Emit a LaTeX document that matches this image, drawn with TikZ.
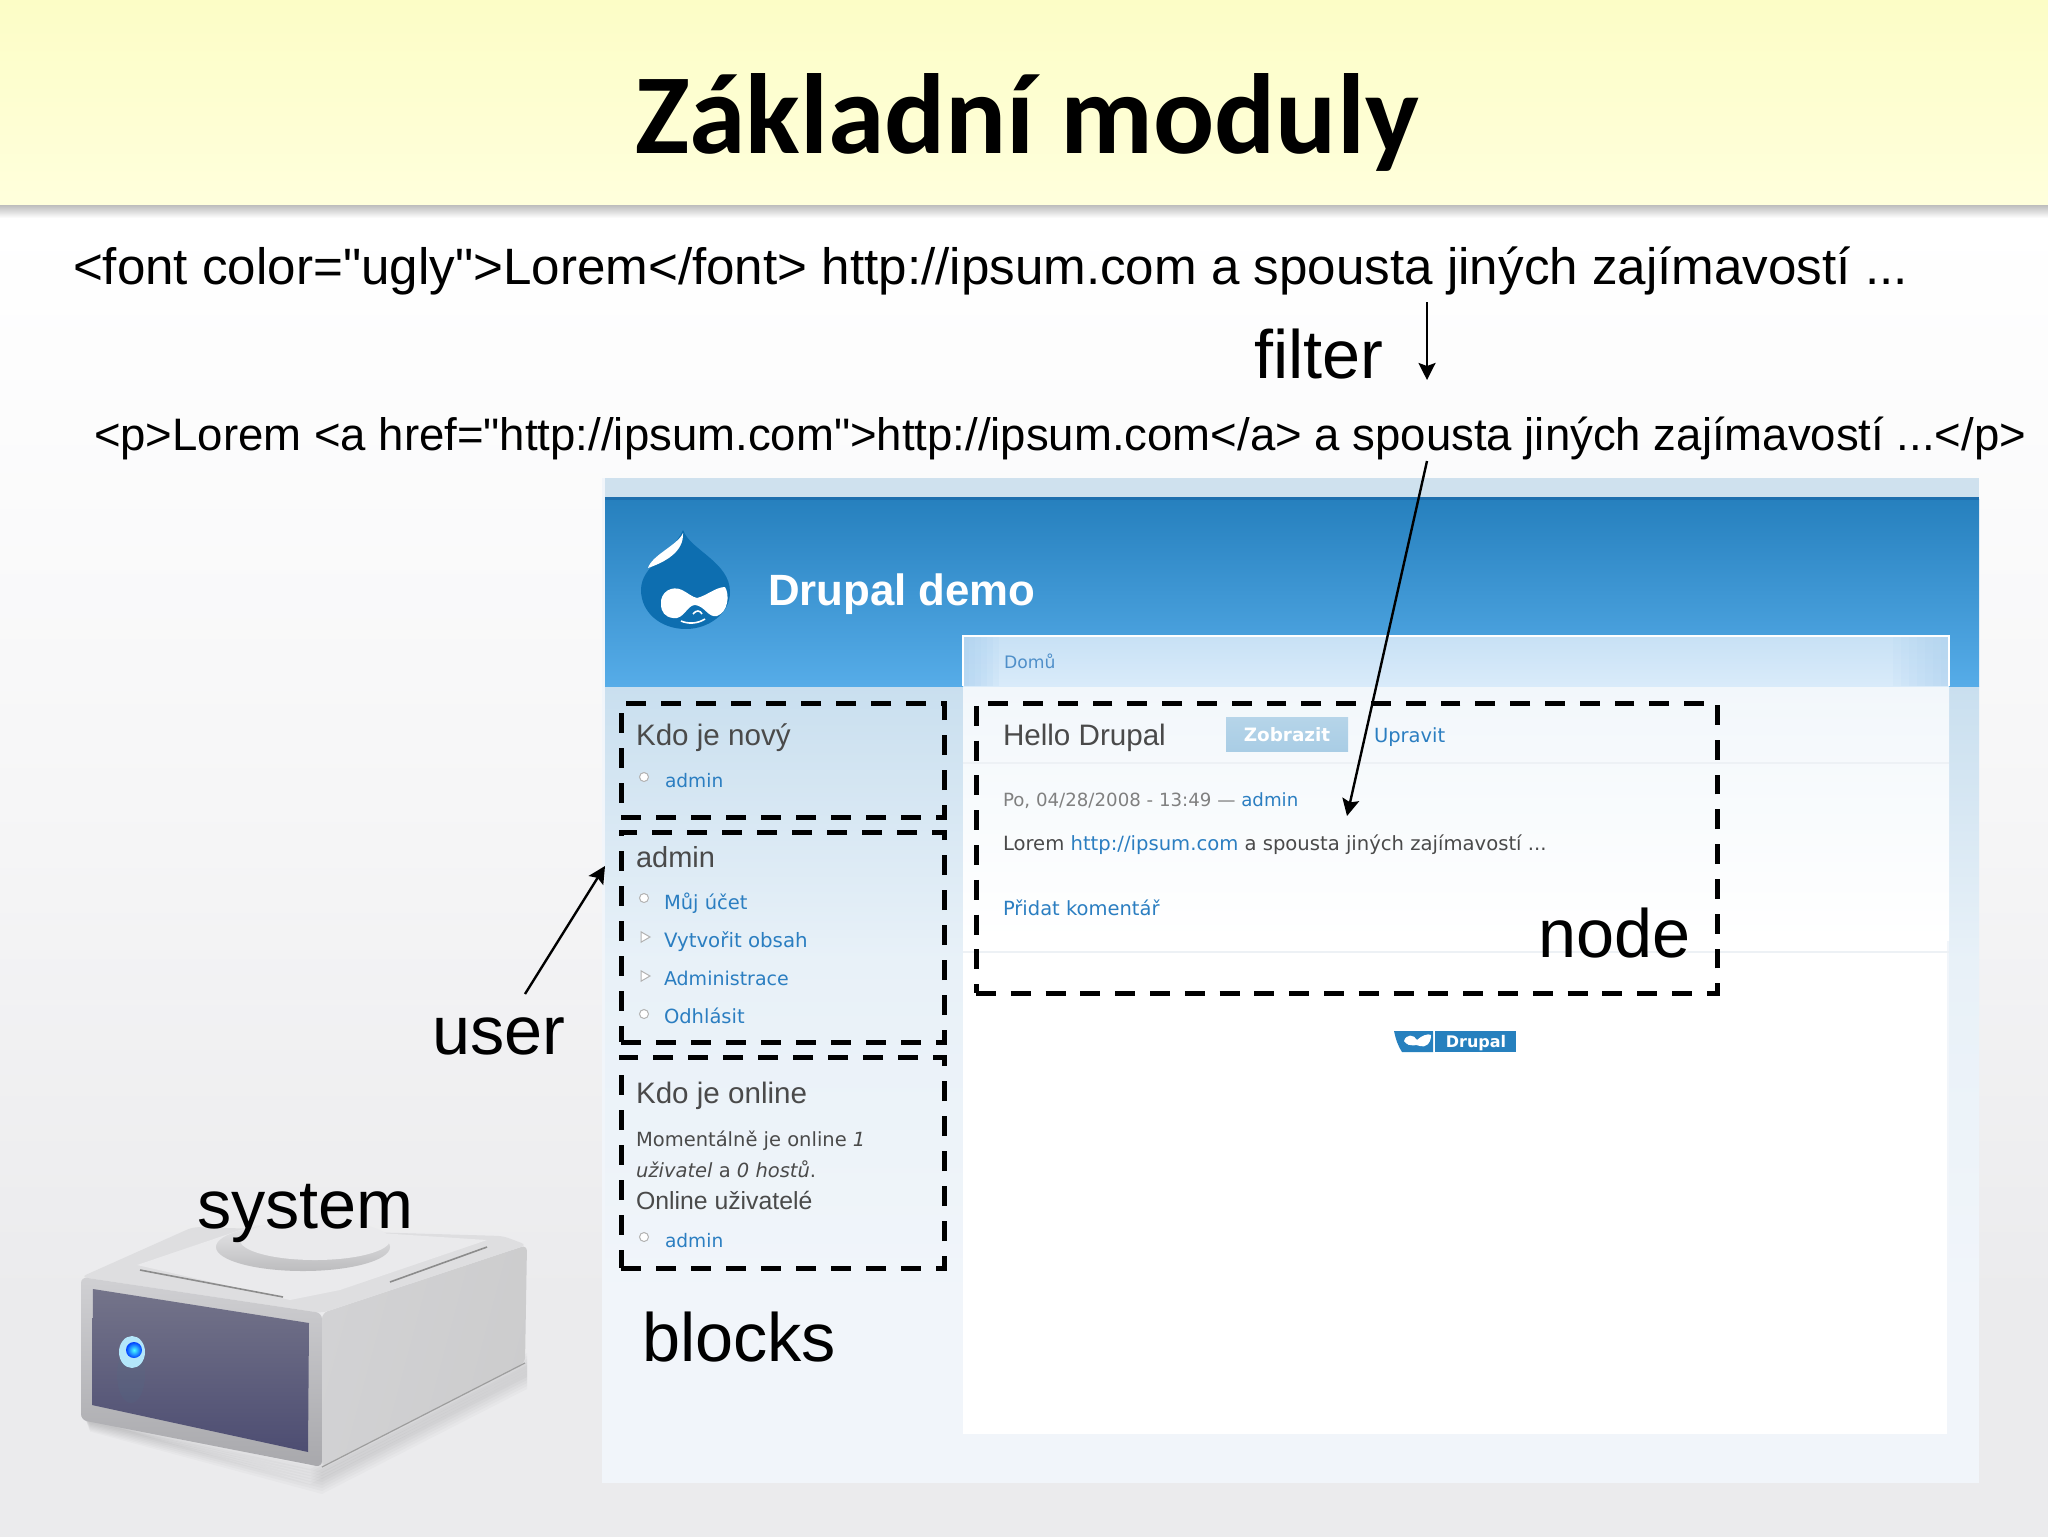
\documentclass[tikz,border=0pt]{standalone}
\usepackage{fontspec}
\setmainfont{Liberation Sans}
\newfontfamily\plainf{Liberation Sans}
\newfontfamily\titlefont{Carlito}
\newfontfamily\verd{DejaVu Sans}
\usetikzlibrary{arrows.meta,shapes.geometric}
\newcommand{\fsz}[1]{\fontsize{#1}{#1}\selectfont}
\definecolor{lnk}{HTML}{2B7EC1}
\definecolor{txt}{HTML}{4A4A4A}
\definecolor{bandA}{HTML}{FCFDC6}
\definecolor{bandB}{HTML}{FFFFDC}
\definecolor{bgM}{HTML}{F6F6F7}
\definecolor{bgB}{HTML}{EBEBED}
\definecolor{stripe}{HTML}{CFE1EE}
\definecolor{hdrT}{HTML}{1F6FAE}
\definecolor{hdrA}{HTML}{2680BE}
\definecolor{hdrB}{HTML}{56ACE8}
\definecolor{sideA}{HTML}{C9DFEF}
\definecolor{sideM}{HTML}{E8F1F8}
\definecolor{sideB}{HTML}{F1F5FA}
\definecolor{crumbA}{HTML}{C8E1F5}
\definecolor{crumbB}{HTML}{D9EBFA}
\definecolor{crumbE}{HTML}{A9D0F0}
\definecolor{pageA}{HTML}{F2F7FB}
\definecolor{sepc}{HTML}{EDF1F5}
\definecolor{tab}{HTML}{A9CDE5}
\definecolor{crumbtxt}{HTML}{4F8FC9}
\definecolor{dropc}{HTML}{0D6EB0}
\definecolor{panA}{HTML}{74748A}
\definecolor{panB}{HTML}{4D4D72}
\definecolor{frA}{HTML}{D0D0D3}
\definecolor{frB}{HTML}{A8A8AC}
\definecolor{sdA}{HTML}{D2D2D4}
\definecolor{sdM}{HTML}{B6B6B7}
\definecolor{sdB}{HTML}{CCCCCD}
\definecolor{topc}{HTML}{DEDEE0}
\definecolor{platec}{HTML}{EAEAEC}
\definecolor{ringA}{HTML}{E8E8EA}
\definecolor{ringB}{HTML}{BCBCBE}
\tikzset{
  tx/.style={anchor=base west,inner sep=0pt,outer sep=0pt},
  big/.style={tx,font=\plainf\fsz{34.2},text=black},
  line/.style={tx,font=\plainf\fsz{25.58},text=black},
  head/.style={tx,font=\plainf\fsz{14.8},text=txt},
  small/.style={tx,font=\verd\fsz{9.75},text=txt},
  link/.style={small,text=lnk},
  bul/.style={circle,draw=black!30,fill=white,line width=.5pt,minimum size=4.5pt,inner sep=0pt},
  tri/.style={regular polygon,regular polygon sides=3,shape border rotate=-90,draw=black!30,fill=white,line width=.5pt,minimum size=6pt,inner sep=0pt},
  dbox/.style={draw=black,line width=2.5pt,dash pattern=on 10pt off 7.5pt,line join=miter},
  arr/.style={draw=black,line width=1.2pt,-{Stealth[length=8.5pt,width=8.5pt,inset=1.5pt]}},
}
\begin{document}
\begin{tikzpicture}[x=.5pt,y=-.5pt]
\useasboundingbox (0,0) rectangle (2048,1536);
% background
\shade[top color=white,bottom color=bgM] (0,218) rectangle (2048,800);
\shade[top color=bgM,bottom color=bgB] (0,799) rectangle (2048,1300);
\fill[bgB] (0,1299) rectangle (2050,1538);
% title band
\shade[top color=black!28,bottom color=white] (0,204) rectangle (2048,218);
\shade[top color=bandA,bottom color=bandB] (0,0) rectangle (2048,204);
\node[tx,font=\plainf\titlefont\bfseries\fsz{57},text=black] (title) at (635,153) {Základní moduly};
% text lines
\node[line] (l1) at (73,284) {<font color="ugly">Lorem</font> http://ipsum.com a spousta jiných zajímavostí ...};
\node[line,font=\plainf\fsz{22.77}] (l2) at (94,450) {<p>Lorem <a href="http://ipsum.com">http://ipsum.com</a> a spousta jiných zajímavostí ...</p>};
\node[big] (filter) at (1254,378) {filter};
% screenshot frame
\fill[sideB] (602,478) rectangle (1979,1483);
\fill[stripe] (605,478) rectangle (1979,497);
% side columns
\shade[top color=sideA,bottom color=sideM] (605,686) rectangle (963,960);
\shade[top color=sideM,bottom color=sideB] (605,959) rectangle (963,1300);
\shade[top color=sideA,bottom color=sideM] (1949,686) rectangle (1979,960);
\shade[top color=sideM,bottom color=sideB] (1949,959) rectangle (1979,1300);
\shade[top color=hdrA,bottom color=hdrB] (605,499) rectangle (1979,686);
\fill[hdrT] (605,497) rectangle (1979,500);
% page
\shade[top color=crumbA,bottom color=crumbB] (963,636) rectangle (1949,686);
\foreach \w in {6,12,...,36} { \fill[crumbE,opacity=.14] (963,636) rectangle (963+\w,686); }
\foreach \w in {8,16,...,56} { \fill[crumbE,opacity=.1] (1949-\w,636) rectangle (1949,686); }
\draw[white,line width=.6pt] (963,686) -- (963,636) -- (1949,636) -- (1949,686);
\shade[top color=pageA,bottom color=white] (963,687) rectangle (1949,940);
\fill[white] (963,939) rectangle (1947,1434);
\draw[sepc,line width=.8pt] (963,763) -- (1949,763);
\draw[sepc,line width=.8pt] (963,952) -- (1949,952);
% logo
\fill[dropc] (683,530) .. controls (690,550) and (730,562) .. (730,592) .. controls (730,614) and (708,629) .. (686,629) .. controls (660,629) and (641,612) .. (641,590) .. controls (641,565) and (672,555) .. (683,530) -- cycle;
\fill[white] (683,533) .. controls (678,545) and (652,555) .. (648,568) .. controls (665,562) and (684,552) .. (683,533) -- cycle;
\fill[white] (661,604) .. controls (660,592) and (672,585) .. (682,590) .. controls (688,593) and (692,597) .. (697,598) .. controls (706,596) and (716,587) .. (725,587) .. controls (730,595) and (728,612) .. (717,616) .. controls (708,618) and (705,606) .. (695,605) .. controls (687,605) and (684,620) .. (673,618) .. controls (665,617) and (661,612) .. (661,604) -- cycle;
\draw[white,line width=.8pt] (681,621) .. controls (688,624) and (697,624) .. (705,619);
\draw[white,line width=.8pt] (693,614) .. controls (696,610) and (700,610) .. (702,614);
\node[tx,font=\plainf\bfseries\fsz{21.9},text=white] (site) at (768,605) {Drupal demo};
% sidebar text
\node[tx,font=\verd\fsz{8.6},text=crumbtxt] (crumb) at (1004,668) {Domů};
\node[head] (h1) at (636,745) {Kdo je nový};
\node[bul] (b1) at (644,777) {};
\node[link,font=\verd\fsz{9.3}] (a1) at (665,787) {admin};
\node[head,font=\plainf\fsz{14.5}] (h2) at (636,867) {admin};
\node[bul] (b2) at (644,898) {};
\node[link] (m1) at (664,909) {Můj účet};
\node[tri] (b3) at (644,937) {};
\node[link,font=\verd\fsz{9.9}] (m2) at (664,947) {Vytvořit obsah};
\node[tri] (b4) at (644,976) {};
\node[link,font=\verd\fsz{9.5}] (m3) at (664,985) {Administrace};
\node[bul] (b5) at (644,1014) {};
\node[link] (m4) at (664,1023) {Odhlásit};
\node[head] (h3) at (636,1103) {Kdo je online};
\node[small] (o1) at (636,1146) {Momentálně je online \textit{1}};
\node[small] (o2) at (636,1177) {\textit{uživatel} a \textit{0 hostů}.};
\node[head,font=\plainf\fsz{12.4}] (o3) at (636,1209) {Online uživatelé};
\node[bul] (b6) at (644,1237) {};
\node[link,font=\verd\fsz{9.3}] (a2) at (665,1247) {admin};
% node text
\node[head] (hd) at (1003,745) {Hello Drupal};
\shade[top color=tab!85!white,bottom color=tab] (1226,717) rectangle (1348,751);
\node[tx,font=\verd\bfseries\fsz{9.2},text=white,anchor=base] (zob) at (1287,741) {Zobrazit};
\node[link] (upr) at (1374,742) {Upravit};
\node[small,font=\verd\fsz{9.1},text=black!50] (dat) at (1003,806) {Po, 04/28/2008 - 13:49 — \textcolor{lnk}{admin}};
\node[small,font=\verd\fsz{9.8}] (lor) at (1003,850) {Lorem \textcolor{lnk}{http://ipsum.com} a spousta jiných zajímavostí ...};
\node[link] (pk) at (1003,915) {Přidat komentář};
% footer badge
\fill[hdrA] (1435,1031) rectangle (1516,1052);
\fill[hdrA] (1394,1031) -- (1433,1031) -- (1433,1052) -- (1402,1052) .. controls (1398,1046) and (1396,1040) .. (1394,1031) -- cycle;
\fill[white] (1404,1041) .. controls (1406,1034) and (1414,1034) .. (1417,1040) .. controls (1421,1036) and (1428,1033) .. (1431,1035) .. controls (1431,1044) and (1425,1048) .. (1420,1046) .. controls (1416,1043) and (1410,1049) .. (1404,1041) -- cycle;
\node[tx,font=\verd\bfseries\fsz{8},text=white,anchor=base] (bdg) at (1476,1047) {Drupal};
% dashed boxes
\draw[dbox] (621,817) -- (944,817) -- (944,703) -- (621,703) -- cycle;
\draw[dbox] (621,1042) -- (944,1042) -- (944,832) -- (621,832) -- cycle;
\draw[dbox] (621,1268) -- (944,1268) -- (944,1057) -- (621,1057) -- cycle;
\draw[dbox,dash pattern=on 9.95pt off 7.45pt] (976,993) -- (1717,993) -- (1717,703) -- (976,703) -- cycle;
% disk shadow
\foreach \d in {1,...,8} {
  \fill[black,opacity=.02] (310,1460+\d*3) -- (527,1350+\d*3) -- (527,1365+\d*3) -- (322,1470+\d*3) -- (90,1422+\d*1.2) -- (85,1418) -- cycle;
}
% disk
\shade[left color=sdA,middle color=sdM,right color=sdB,shading angle=75,rounded corners=3pt] (322,1313) -- (527,1245) -- (525,1363) -- (322,1467) -- cycle;
\fill[topc,rounded corners=3pt] (81,1277) -- (193,1227) -- (503,1236) -- (527,1245) -- (322,1313) -- cycle;
\shade[top color=frA,bottom color=frB,rounded corners=3pt] (81,1277) -- (322,1313) -- (322,1467) -- (81,1420) -- cycle;
\shade[top color=panA,bottom color=panB] (93,1289) -- (309,1323) -- (308,1452) -- (92,1405) -- cycle;
\draw[black!38,line width=.6pt] (322,1467) -- (525,1363);
\fill[platec] (137,1265) -- (255,1225) -- (487,1240) -- (340,1290) -- (290,1300) -- cycle;
\draw[black!45,line width=.8pt] (140,1270) -- (283,1297);
\draw[black!45,line width=.8pt] (390,1282) -- (487,1247);
\shade[top color=ringA,bottom color=ringB] (303,1247) ellipse (87 and 24);
\fill[platec] (315,1240) ellipse (75 and 20);
\fill[cyan!50!black,opacity=.12] (131,1375) ellipse (14 and 28);
\fill[cyan!30!white] (132,1352) ellipse (13 and 16);
\shade[inner color=cyan!70!white,outer color=blue!75!cyan] (134,1350) circle (8);
% labels
\node[big] (system) at (197,1228) {system};
\node[big] (user) at (432,1054) {user};
\node[big] (blocks) at (642,1361) {blocks};
\node[big] (nodelbl) at (1538,957) {node};
% arrows
\coordinate (fa) at (1427,302); \coordinate (fb) at (1427,380);
\coordinate (la) at (1427,461); \coordinate (lb) at (1347,816);
\coordinate (ua) at (525,994); \coordinate (ub) at (605,866);
\draw[arr] (fa) -- (fb);
\draw[arr] (la) -- (lb);
\draw[arr] (ua) -- (ub);
\end{tikzpicture}
\end{document}
